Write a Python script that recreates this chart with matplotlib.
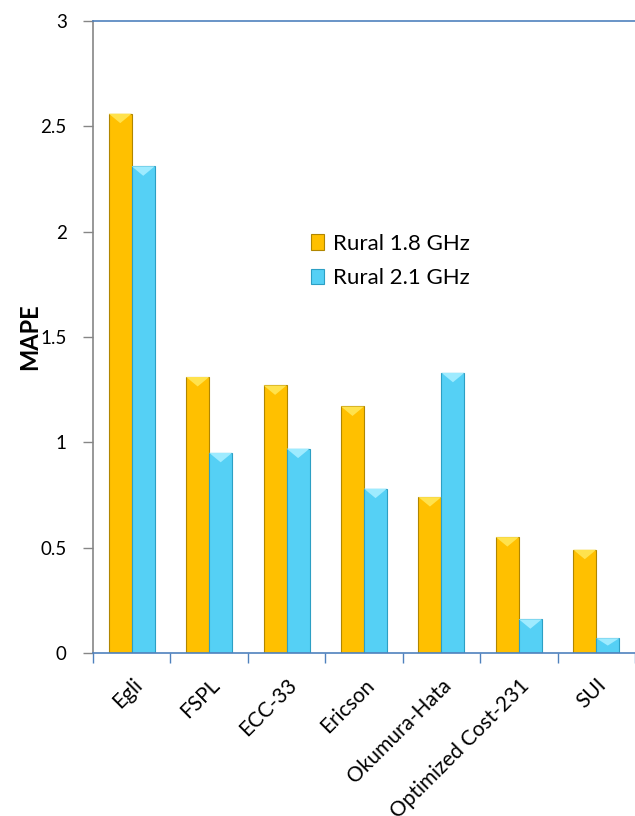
import matplotlib.pyplot as plt
import numpy as np
from matplotlib.patches import Polygon

models = ["Egli", "FSPL", "ECC-33", "Ericson", "Okumura-Hata", "Optimized Cost-231", "SUI"]
rural_18 = [2.56, 1.31, 1.27, 1.17, 0.74, 0.55, 0.49]
rural_21 = [2.31, 0.95, 0.97, 0.78, 1.33, 0.16, 0.07]
series_names = ["Rural 1.8 GHz", "Rural 2.1 GHz"]

gold = "#FFC000"
gold_edge = "#B08600"
gold_light = "#FFE24D"
cyan = "#55D0F5"
cyan_edge = "#2C9FC4"
cyan_light = "#9EEBFF"

plt.rcParams['font.family'] = ['Lato', 'DejaVu Sans']

fig = plt.figure(figsize=(6.35, 8.16), dpi=100)
ax = fig.add_axes([0.1465, 0.1998, 0.8535, 0.7745])

x = np.arange(len(models))
w = 0.297

def bevel_bars(xpos, vals, face, edge, light, label):
    bars = ax.bar(xpos, vals, w, color=face, edgecolor=edge, linewidth=0.8, label=label, zorder=2)
    # light chevron at top of each bar (Excel bevel look)
    d = 0.045
    for xi, v in zip(xpos, vals):
        dd = min(d, v / 2)
        tri = Polygon([[xi - w / 2, v], [xi + w / 2, v], [xi, v - dd]],
                      closed=True, facecolor=light, edgecolor='none', zorder=3)
        ax.add_patch(tri)
    return bars

b1 = bevel_bars(x - w / 2, rural_18, gold, gold_edge, gold_light, series_names[0])
b2 = bevel_bars(x + w / 2, rural_21, cyan, cyan_edge, cyan_light, series_names[1])

ax.set_xlim(-0.5, len(models) - 0.5)
ax.set_ylim(0, 3)
ax.set_yticks(np.arange(0, 3.01, 0.5))
ax.set_yticklabels(["0", "0.5", "1", "1.5", "2", "2.5", "3"])
fig.text(0.047, 0.587, "MAPE", rotation=90, fontsize=17, fontweight='bold', ha='center', va='center')

ax.set_xticks(x)
ax.set_xticklabels(models, rotation=45, ha='right', rotation_mode='anchor', fontsize=15)
ax.set_xticks(np.arange(-0.5, len(models), 1), minor=True)
ax.tick_params(axis='x', which='major', length=0, pad=16)
ax.tick_params(axis='x', which='minor', length=7, color='#4F81BD', width=1)
ax.tick_params(axis='y', length=7, color='#868686', width=1, labelsize=13.5, pad=12)

ax.spines['left'].set_color('#868686')
ax.spines['bottom'].set_color('#4F81BD')
ax.spines['top'].set_color('#4F81BD')
ax.spines['right'].set_visible(False)
for s in ax.spines.values():
    s.set_linewidth(1.2)

ax.legend(loc='upper left', bbox_to_anchor=(0.365, 0.695), frameon=False, fontsize=16,
          handlelength=0.6, handleheight=0.7, handletextpad=0.4, labelspacing=0.65)

fig.savefig("out.png", dpi=100)
